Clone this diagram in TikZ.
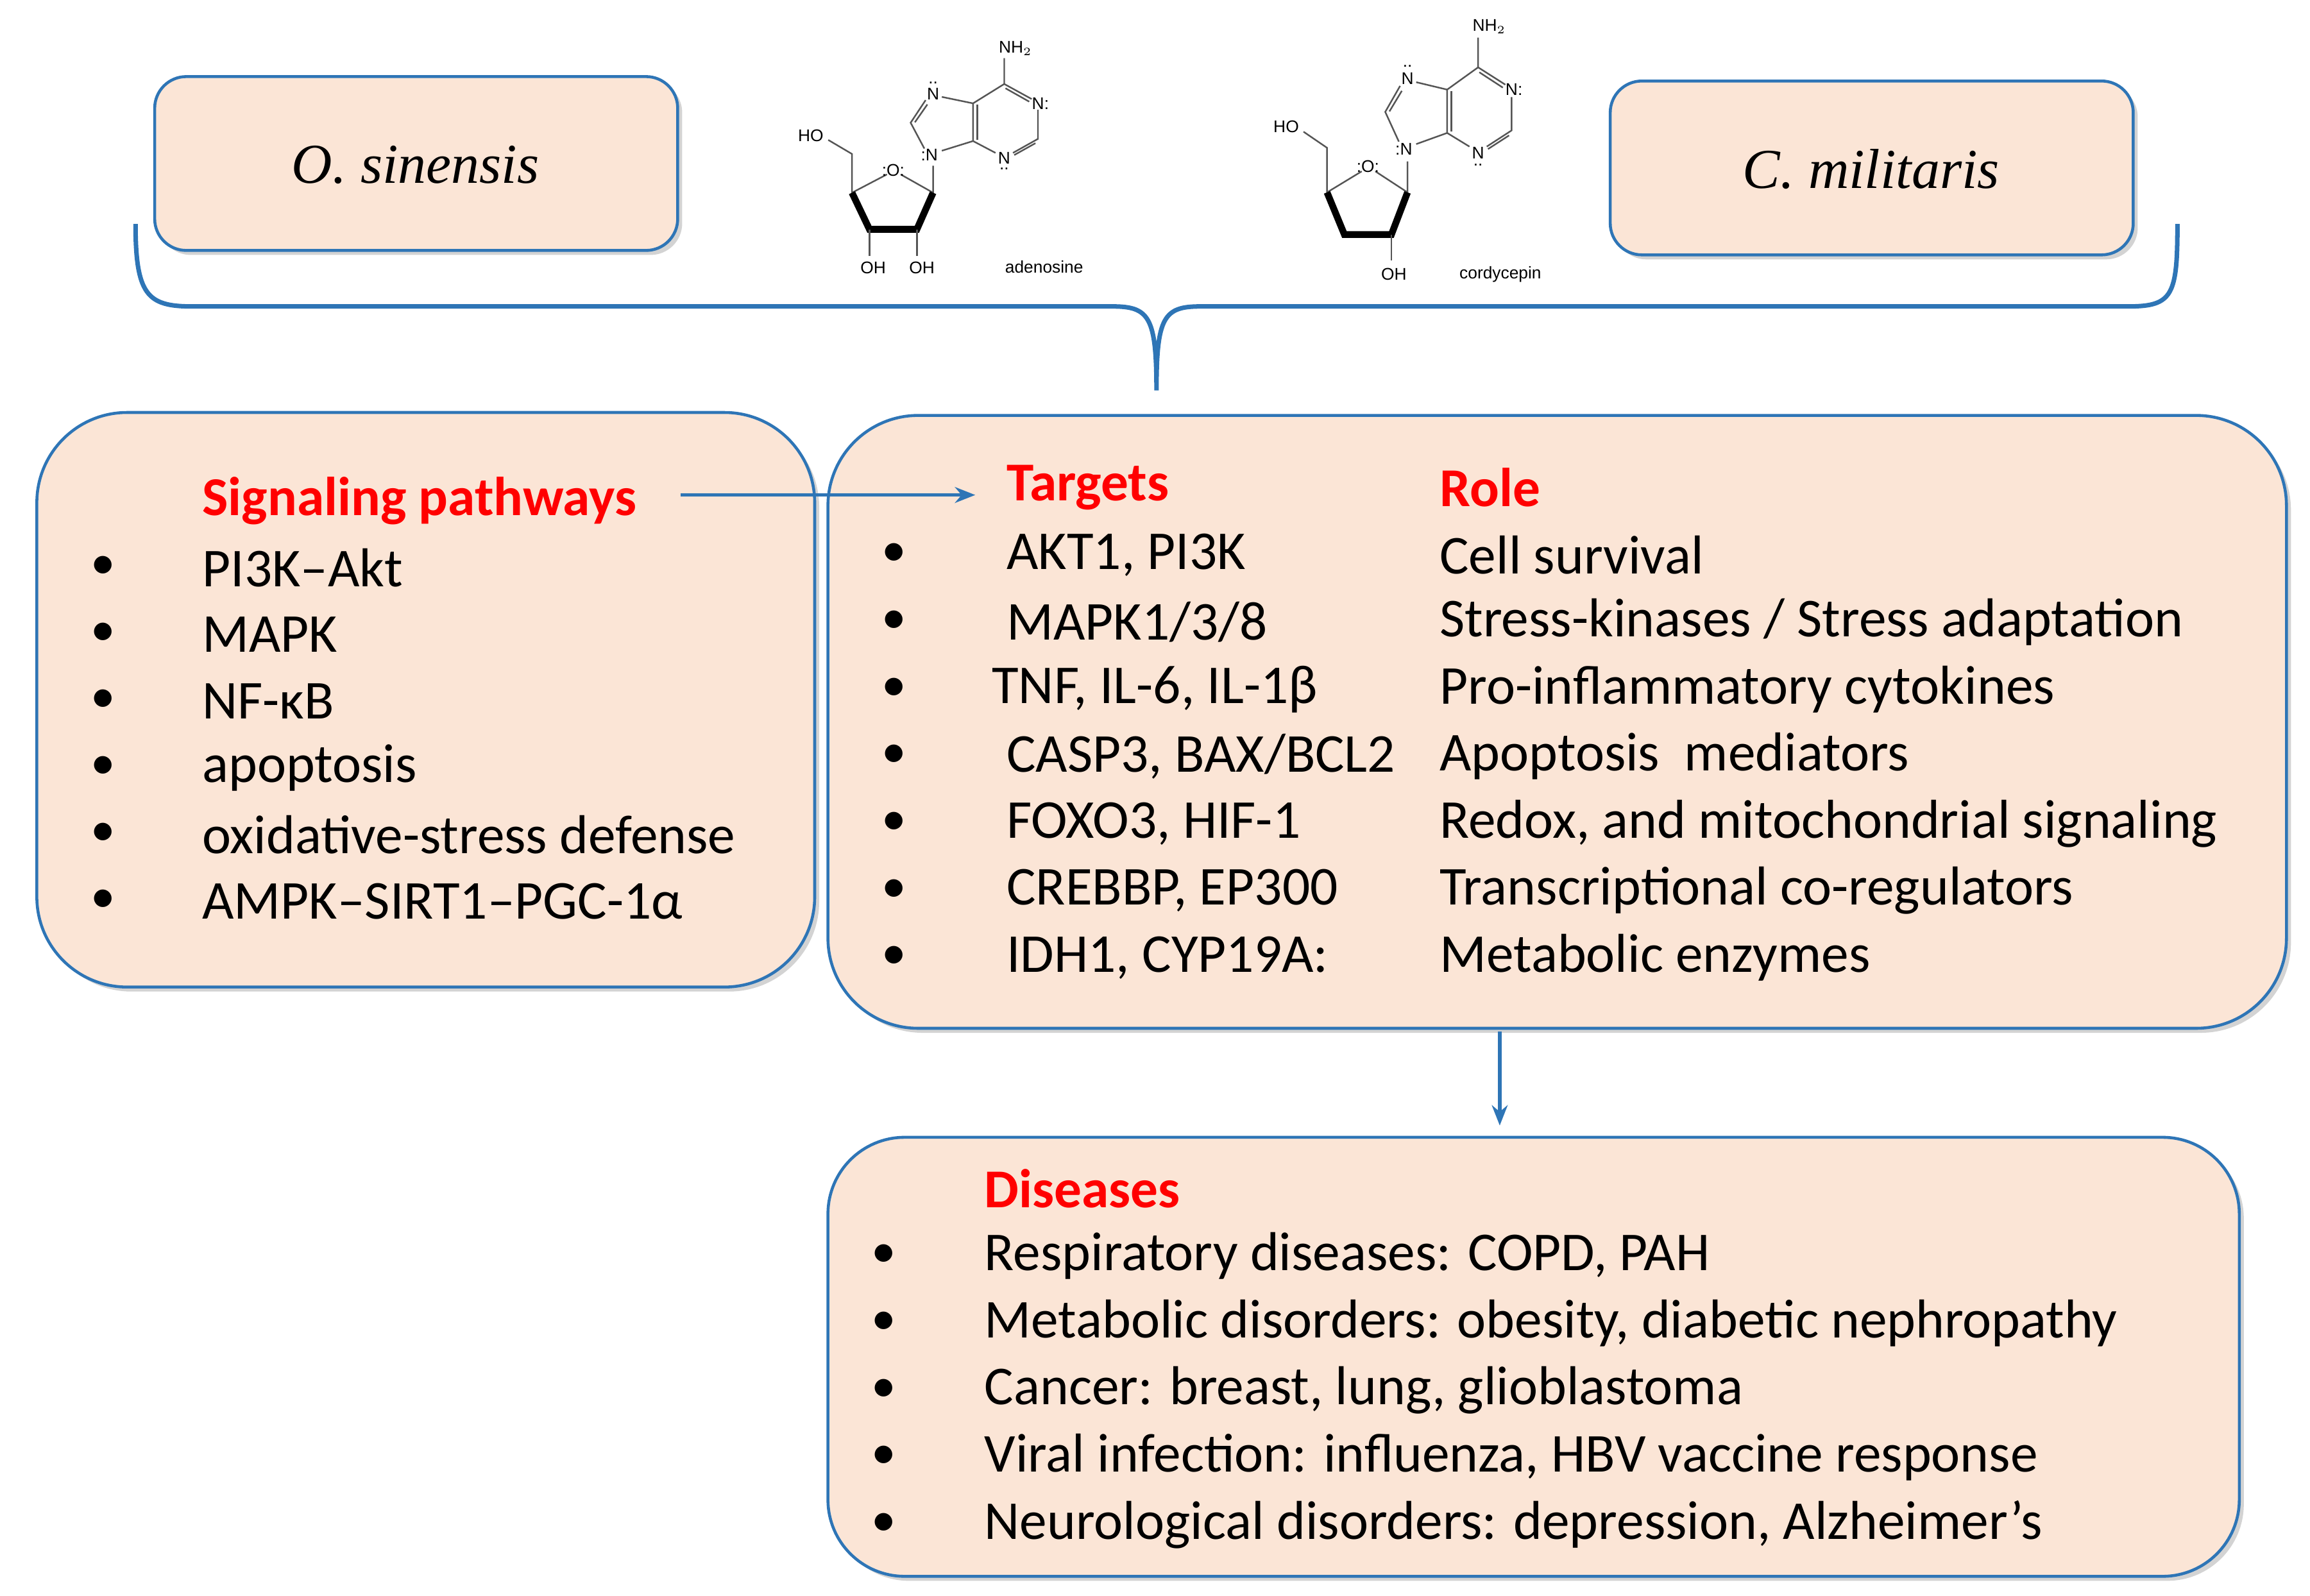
\documentclass[tikz,border=0pt]{standalone}
\usepackage{fontspec}
\setmainfont{Carlito}
\newfontfamily\molfont{Liberation Sans}
\newfontfamily\serifit{Liberation Serif}
\usetikzlibrary{shadows,arrows.meta}
\definecolor{peach}{HTML}{FBE5D6}
\definecolor{bblue}{HTML}{2E75B6}
\definecolor{hred}{HTML}{FF0000}
\definecolor{molg}{HTML}{555555}
\tikzset{
 box/.style={draw=bblue,line width=1.3pt,fill=peach,rounded corners=#1,drop shadow={shadow xshift=2pt,shadow yshift=-2pt,opacity=0.35}},
 txt/.style={anchor=west,inner sep=0,font=\fontsize{24.3}{26}\selectfont},
 hd/.style={txt,text=hred,font=\fontsize{24.3}{26}\selectfont\bfseries},
 bul/.style={inner sep=0,font=\fontsize{22}{24}\selectfont},
 arr/.style={draw=bblue,line width=1.5pt,-{Stealth[length=9pt,width=7pt]}},
 bond/.style={draw=molg,line width=0.7pt},
 wedge/.style={draw=black,line width=3pt},
 ml/.style={inner sep=0,text=black,font=\molfont\fontsize{7.5}{8}\selectfont},
}
\newcommand{\mybase}{%
 \draw[bond] (235,570)--(330,635)--(330,815)--(470,730);
 \draw[bond] (525,730)--(655,815)--(655,690);
 \draw[bond] (620,610)--(565,490)--(625,385);
 \draw[bond] (582,488)--(632,405);
 \draw[bond] (690,370)--(815,400)--(815,575)--(690,620);
 \draw[bond] (832,405)--(832,570);
 \draw[bond] (815,400)--(940,310)--(940,190);
 \draw[bond] (940,310)--(1050,380);
 \draw[bond] (945,330)--(1040,392);
 \draw[bond] (1075,430)--(1075,565)--(975,630);
 \draw[bond] (1065,585)--(980,640);
 \draw[bond] (815,575)--(905,630);
 \node[ml] at (165,550) {HO};
 \node[ml] at (495,710) {:O:};
 \node[ml] at (640,640) {:N};
 \node[ml] at (655,355) {N};
 \node[ml] at (655,305) {..};
 \node[ml] at (1085,400) {N:};
 \node[ml] at (940,655) {N};
 \node[ml] at (940,705) {..};
 \node[ml] at (985,145) {NH$_2$};
}
\begin{document}
\begin{tikzpicture}[x=0.022966cm,y=-0.022966cm]
\useasboundingbox (0,0) rectangle (1568,1083);
% top boxes
\path[box=14pt] (105,52) rectangle (460,170);
\node (ost) at (282,112) {\serifit\itshape\fontsize{25}{28}\selectfont O. sinensis};
\path[box=14pt] (1093,55) rectangle (1448,173);
\node (cmt) at (1270,115) {\serifit\itshape\fontsize{25}{28}\selectfont C. militaris};
% molecules
\begin{scope}[shift={(522.4,11.7)},x=0.00389cm,y=-0.00336cm]
 \mybase
 \draw[wedge] (330,815)--(400,985)--(590,985)--(655,815);
 \draw[bond] (400,985)--(400,1110);
 \draw[bond] (590,985)--(590,1110);
 \node[ml] at (415,1165) {OH};
 \node[ml] at (610,1165) {OH};
 \node[ml] at (1100,1160) {adenosine};
\end{scope}
\begin{scope}[shift={(845.3,-6.4)},x=0.00386cm,y=-0.00386cm]
 \mybase
 \draw[wedge] (330,815)--(400,985)--(590,985)--(655,815);
 \draw[bond] (590,985)--(590,1090);
 \node[ml] at (600,1145) {OH};
 \node[ml] at (1030,1145) {cordycepin};
\end{scope}
% brace
\draw[bblue,line width=2pt] (92,152) .. controls (92,200) and (100,208) .. (130,208) -- (755,208) .. controls (780,208) and (785,215) .. (785,265)
 .. controls (785,215) and (790,208) .. (815,208) -- (1445,208) .. controls (1475,208) and (1478,200) .. (1478,152);
% main boxes
\path[box=40pt] (25,280) rectangle (553,670);
\path[box=40pt] (562,282) rectangle (1552,698);
\path[box=34pt] (562,772) rectangle (1520,1070);
% left box
\node[hd] (sp) at (137,340) {Signaling pathways};
\foreach \t [count=\i] in {PI3K--Akt,MAPK,NF-κB,apoptosis,oxidative-stress defense,AMPK--SIRT1--PGC-1α}{
 \node[bul] at (70,340+45.3*\i) {•};
 \node[txt] at (137,340+45.3*\i) {\t};
}
% middle box
\node[hd] (tg) at (683,331) {Targets};
\node[hd] at (977,331) {Role};
\foreach \a/\b/\r [count=\i] in {683/{AKT1, PI3K}/{Cell survival},683/{MAPK1/3/8}/{Stress-kinases / Stress adaptation},673/{TNF, IL-6, IL-1β}/{Pro-inflammatory cytokines},683/{CASP3, BAX/BCL2}/{Apoptosis~ mediators},683/{FOXO3, HIF-1}/{Redox, and mitochondrial signaling},683/{CREBBP, EP300}/{Transcriptional co-regulators},683/{IDH1, CYP19A:}/{Metabolic enzymes}}{
 \node[bul] at (607,331+45.6*\i) {•};
 \node[txt] at (\a,331+45.6*\i) {\b};
 \node[txt] at (977,331+45.6*\i) {\r};
}
% bottom box
\node[hd] (ds) at (668,807) {Diseases};
\foreach \t [count=\i] in {{Respiratory diseases: COPD, PAH},{Metabolic disorders: obesity, diabetic nephropathy},{Cancer: breast, lung, glioblastoma},{Viral infection: influenza, HBV vaccine response},{Neurological disorders: depression, Alzheimer’s}}{
 \node[bul] at (600,807+45.6*\i) {•};
 \node[txt] at (668,807+45.6*\i) {\t};
}
% arrows
\coordinate (a1) at (462,336);
\coordinate (a2) at (662,336);
\draw[arr] (a1) -- (a2);
\coordinate (b1) at (1018,700);
\coordinate (b2) at (1018,764);
\draw[arr] (b1) -- (b2);
\end{tikzpicture}
\end{document}
